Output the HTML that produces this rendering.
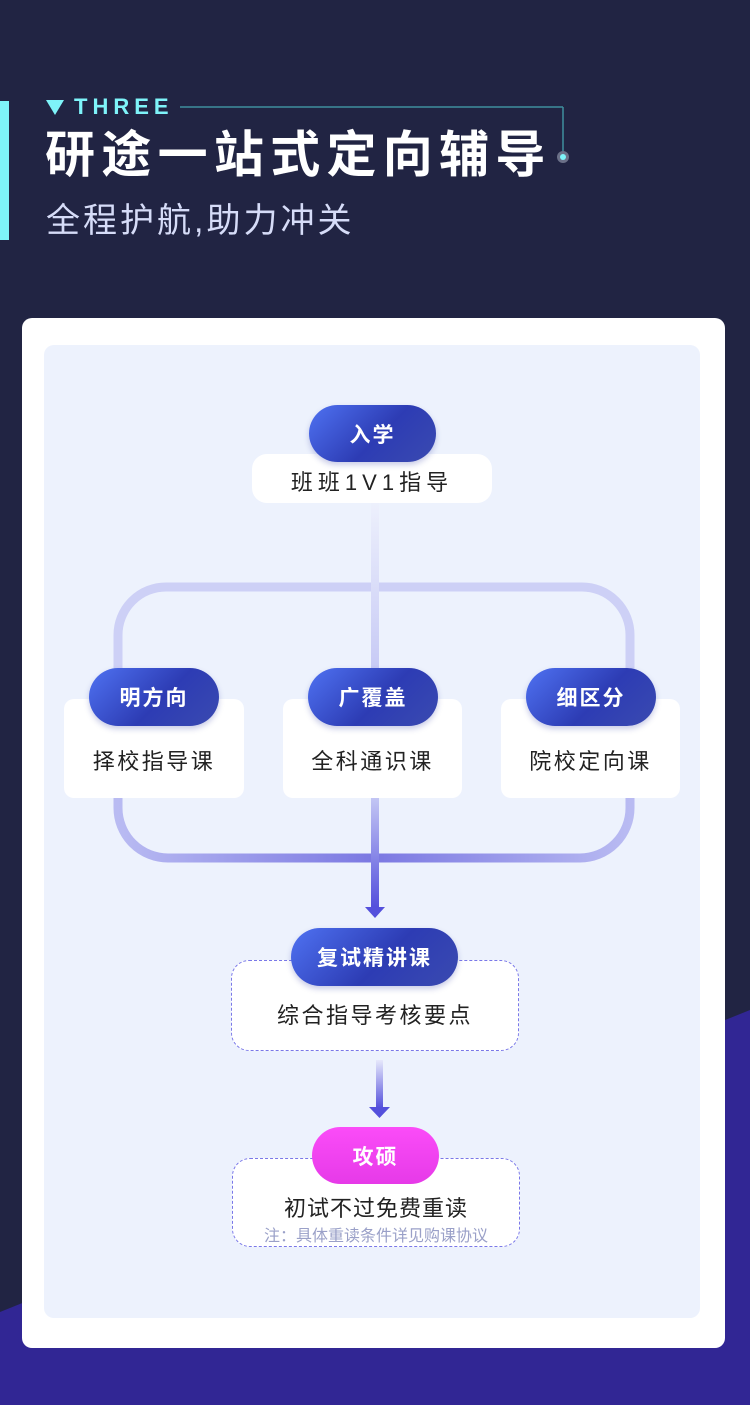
<!DOCTYPE html>
<html><head><meta charset="utf-8"><style>
*{margin:0;padding:0;box-sizing:border-box}
body{width:750px;height:1405px;position:relative;overflow:hidden;background:#212443;font-family:"Liberation Sans","Noto Sans CJK SC",sans-serif}
.a{position:absolute}
.pill{position:absolute;border-radius:29px;background:linear-gradient(135deg,#4f72f2 0%,#2d3cb4 55%,#3a4ab0 100%);color:#fff;font-weight:bold;font-size:21px;letter-spacing:2px;display:flex;align-items:center;justify-content:center;box-shadow:0 3px 6px rgba(40,50,160,.25)}
.box{position:absolute;background:#fff;border-radius:10px;display:flex;align-items:center;justify-content:center;font-size:22px;color:#222;letter-spacing:2.5px}
.dash{position:absolute;background:#fff;border:1.2px dashed #7a78e8;border-radius:18px}
</style></head><body>
<svg class="a" style="left:0;top:0" width="750" height="1405">
<polygon points="0,1312 750,1010 750,1405 0,1405" fill="#312694"/>
<line x1="180" y1="107" x2="563" y2="107" stroke="#3f8e9e" stroke-width="1.5"/>
<line x1="563" y1="107" x2="563" y2="156" stroke="#3f8e9e" stroke-width="1.5"/>
<circle cx="563" cy="157" r="6" fill="#6b7088"/>
<circle cx="563" cy="157" r="3" fill="#7ef3f9"/>
<polygon points="46,100 64,100 55,115" fill="#7ef3f9"/>
</svg>
<div class="a" style="left:0;top:101px;width:9px;height:139px;background:#7ef3f9"></div>
<div class="a" style="left:74px;top:94px;color:#7ef3f9;font-weight:bold;font-size:22px;letter-spacing:5px;line-height:26px">THREE</div>
<div class="a" style="left:45px;top:124px;color:#fff;font-weight:bold;font-size:50px;letter-spacing:6.3px;line-height:62px;white-space:nowrap">研途一站式定向辅导</div>
<div class="a" style="left:46px;top:198px;color:#d6dcf8;font-size:34px;letter-spacing:3px;line-height:46px;white-space:nowrap">全程护航,助力冲关</div>

<div class="a" style="left:22px;top:318px;width:703px;height:1030px;background:#fff;border-radius:10px"></div>
<div class="a" style="left:44px;top:345px;width:656px;height:973px;background:#edf2fd;border-radius:10px"></div>

<svg class="a" style="left:0;top:0" width="750" height="1405">
<defs>
<linearGradient id="v1" x1="0" y1="0" x2="0" y2="1"><stop offset="0" stop-color="#edf0fc"/><stop offset="1" stop-color="#c6c9f5"/></linearGradient>
<linearGradient id="bl" x1="0" y1="0" x2="1" y2="0"><stop offset="0" stop-color="#b9bbf2"/><stop offset="0.5" stop-color="#7b78e2"/><stop offset="1" stop-color="#b9bbf2"/></linearGradient>
<linearGradient id="v2" x1="0" y1="0" x2="0" y2="1"><stop offset="0" stop-color="#c6c9f5"/><stop offset="1" stop-color="#5450dc"/></linearGradient>
<linearGradient id="v3" x1="0" y1="0" x2="0" y2="1"><stop offset="0" stop-color="#e6e8fb"/><stop offset="1" stop-color="#5450dc"/></linearGradient>
</defs>
<path d="M118,680 V635 A48,48 0 0 1 166,587 H582 A48,48 0 0 1 630,635 V680" fill="none" stroke="#cdd0f6" stroke-width="9"/>
<rect x="371" y="503" width="8" height="170" fill="url(#v1)"/>
<path d="M118,790 V808 A50,50 0 0 0 168,858 H580 A50,50 0 0 0 630,808 V790" fill="none" stroke="url(#bl)" stroke-width="9"/>
<rect x="371" y="795" width="8" height="112" fill="url(#v2)"/>
<polygon points="365,907 385,907 375,918" fill="#5450dc"/>
<rect x="376" y="1060" width="7" height="48" fill="url(#v3)"/>
<polygon points="369,1107 390,1107 379.5,1118" fill="#5450dc"/>
</svg>

<div class="box" style="left:252px;top:454px;width:240px;height:49px;border-radius:15px;padding-top:4px;letter-spacing:5px">班班1V1指导</div>
<div class="pill" style="left:309px;top:405px;width:127px;height:57px">入学</div>

<div class="box" style="left:64px;top:699px;width:180px;height:99px;padding-top:22px">择校指导课</div>
<div class="box" style="left:283px;top:699px;width:179px;height:99px;padding-top:22px">全科通识课</div>
<div class="box" style="left:501px;top:699px;width:179px;height:99px;padding-top:22px">院校定向课</div>
<div class="pill" style="left:89px;top:668px;width:130px;height:58px">明方向</div>
<div class="pill" style="left:308px;top:668px;width:130px;height:58px">广覆盖</div>
<div class="pill" style="left:526px;top:668px;width:130px;height:58px">细区分</div>

<div class="dash" style="left:231px;top:960px;width:288px;height:91px"></div>
<div class="a" style="left:231px;top:998px;width:288px;text-align:center;font-size:22px;letter-spacing:2.5px;color:#222">综合指导考核要点</div>
<div class="pill" style="left:291px;top:928px;width:167px;height:58px">复试精讲课</div>

<div class="dash" style="left:232px;top:1158px;width:288px;height:89px"></div>
<div class="a" style="left:232px;top:1191px;width:288px;text-align:center;font-size:22px;letter-spacing:1px;color:#222">初试不过免费重读</div>
<div class="a" style="left:232px;top:1222px;width:288px;text-align:center;font-size:16px;color:#9aa0c8">注：具体重读条件详见购课协议</div>
<div class="pill" style="left:312px;top:1127px;width:127px;height:57px;background:linear-gradient(180deg,#fb4cf8,#e63ae8);box-shadow:none">攻硕</div>
</body></html>
